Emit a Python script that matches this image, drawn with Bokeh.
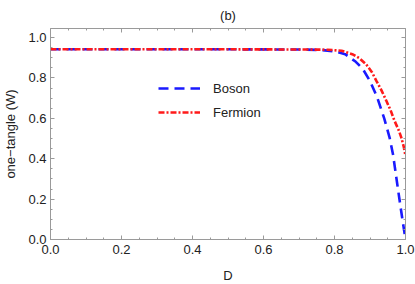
from bokeh.plotting import figure
from bokeh.models import (LinearAxis, FixedTicker, Range1d, Legend, LegendItem,
                          NumeralTickFormatter, CustomLabelingPolicy)
from bokeh.embed import file_html
from bokeh.resources import INLINE

boson_d = [0.0, 0.5, 0.7, 0.76, 0.8, 0.83, 0.86, 0.88, 0.9, 0.92, 0.94, 0.955, 0.965, 0.978, 0.99, 1.0]
boson_w = [0.942, 0.942, 0.941, 0.939, 0.932, 0.918, 0.880, 0.844, 0.785, 0.705, 0.600, 0.506, 0.420, 0.259, 0.115, 0.0]
fermion_d = [0.0, 0.5, 0.7, 0.78, 0.82, 0.85, 0.87, 0.889, 0.905, 0.918, 0.932, 0.946, 0.958, 0.969, 0.98, 0.988, 0.995, 1.0]
fermion_w = [0.942, 0.942, 0.941, 0.940, 0.935, 0.918, 0.898, 0.868, 0.830, 0.786, 0.740, 0.687, 0.640, 0.588, 0.545, 0.506, 0.460, 0.415]

x_major = [0.0, 0.2, 0.4, 0.6, 0.8, 1.0]
x_minor = [i * 0.05 for i in range(21)]
y_major = [0.0, 0.2, 0.4, 0.6, 0.8, 1.0]
y_minor = [i * 0.05 for i in range(21)]

title_text = "(b)"
x_label = "D"
y_label = "one\u2212tangle (W)"

FONT = "Liberation Sans"
AX = "#9a9a9a"
TXT = "#222222"
FS = "13px"

p = figure(frame_width=355, frame_height=211, output_backend="svg", toolbar_location=None,
           x_range=Range1d(0, 1.0), y_range=Range1d(0, 1.045),
           x_axis_location=None, y_axis_location=None,
           min_border_left=0, min_border_right=11, min_border_top=0, min_border_bottom=0,
           background_fill_color="white", border_fill_color="white")
p.outline_line_color = None
p.grid.visible = False

p.title.text = title_text
p.title.align = "center"
p.title.text_font = FONT
p.title.text_font_size = FS
p.title.text_font_style = "normal"
p.title.text_color = TXT
p.title.standoff = 11

no_labels = CustomLabelingPolicy(code="for (const i of Array.from(indices)) { indices.unset(i) }; return indices")

def style(ax, labels=True):
    ax.axis_line_color = AX
    ax.axis_line_width = 1
    ax.major_tick_line_color = AX
    ax.minor_tick_line_color = AX
    ax.major_tick_in = 4
    ax.major_tick_out = 0
    ax.minor_tick_in = 2
    ax.minor_tick_out = 0
    if labels:
        ax.major_label_text_font = FONT
        ax.major_label_text_font_size = FS
        ax.major_label_text_color = TXT
        ax.axis_label_text_font = FONT
        ax.axis_label_text_font_size = FS
        ax.axis_label_text_font_style = "normal"
        ax.axis_label_text_color = TXT
    else:
        ax.major_label_text_font_size = "0px"
        ax.major_label_policy = no_labels
        ax.major_label_standoff = 0

xt = FixedTicker(ticks=x_major, minor_ticks=x_minor)
yt = FixedTicker(ticks=y_major, minor_ticks=y_minor)

bottom = LinearAxis(ticker=xt, axis_label=x_label)
style(bottom)
bottom.major_label_standoff = 5
bottom.axis_label_standoff = 11
bottom.formatter = NumeralTickFormatter(format="0.0")
p.add_layout(bottom, "below")

left = LinearAxis(ticker=yt, axis_label=y_label)
style(left)
left.major_label_standoff = 4
left.axis_label_standoff = 7
left.formatter = NumeralTickFormatter(format="0.0")
p.add_layout(left, "left")

top = LinearAxis(ticker=xt)
style(top, labels=False)
p.add_layout(top, "above")

right = LinearAxis(ticker=yt)
style(right, labels=False)
p.add_layout(right, "right")

r1 = p.line(boson_d, boson_w, line_color="#1a1aff", line_width=2.6, line_dash="10 6")
r2 = p.line(fermion_d, fermion_w, line_color="#ff1a1a", line_width=2.6, line_dash="6 2 2 2")

legend = Legend(items=[LegendItem(label="Boson", renderers=[r1]),
                       LegendItem(label="Fermion", renderers=[r2])],
                location=(108, 117), padding=0, margin=0, spacing=4,
                glyph_width=42, glyph_height=20, label_height=20, label_standoff=13,
                border_line_alpha=0, background_fill_alpha=0,
                label_text_font=FONT, label_text_font_size=FS, label_text_color=TXT)
p.add_layout(legend, "center")

open("out.html", "w").write(file_html(p, INLINE))
